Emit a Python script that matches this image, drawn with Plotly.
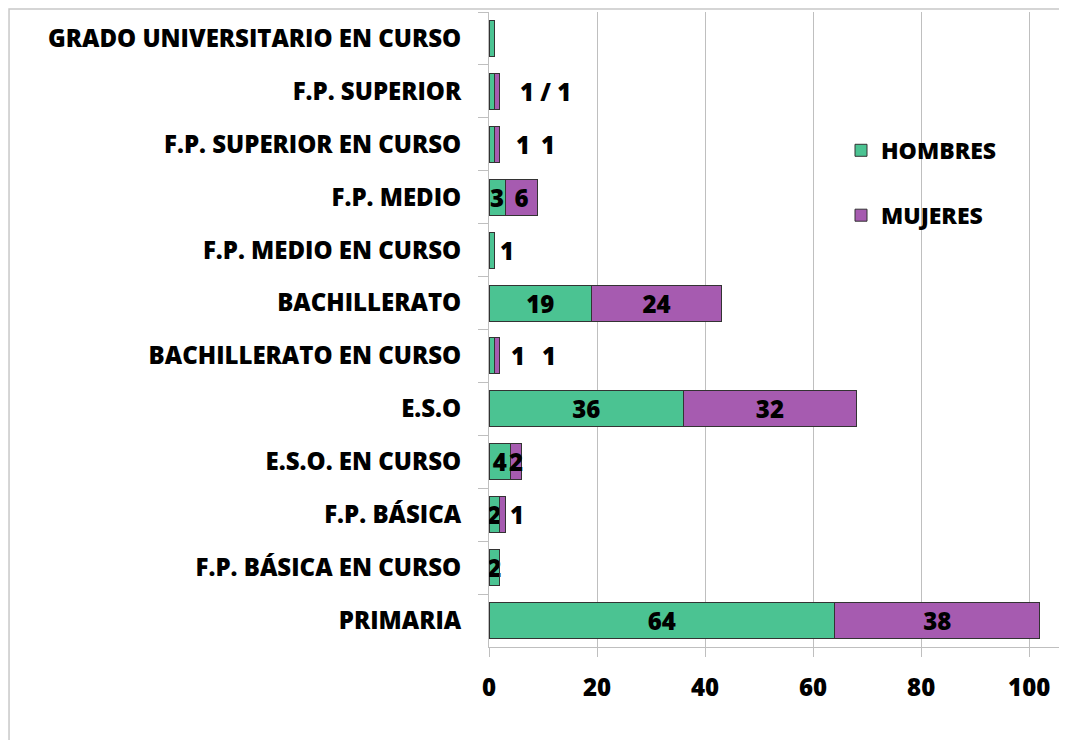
import plotly.graph_objects as go

categorias = ["GRADO UNIVERSITARIO EN CURSO", "F.P. SUPERIOR", "F.P. SUPERIOR EN CURSO",
              "F.P. MEDIO", "F.P. MEDIO EN CURSO", "BACHILLERATO", "BACHILLERATO EN CURSO",
              "E.S.O", "E.S.O. EN CURSO", "F.P. BÁSICA", "F.P. BÁSICA EN CURSO", "PRIMARIA"]
hombres = [1, 1, 1, 3, 1, 19, 1, 36, 4, 2, 2, 64]
mujeres = [0, 1, 1, 6, 0, 24, 1, 32, 2, 1, 0, 38]
texto_hombres = ["", "", "", "3", "", "19", "", "36", "4", "2", "2", "64"]
texto_mujeres = ["", "", "", "6", "", "24", "", "32", "2", "", "", "38"]
# labels drawn beside the small bars: (category, text, x in data units)
etiquetas_fuera = [("F.P. SUPERIOR", "1 / 1", 10.4),
                   ("F.P. SUPERIOR EN CURSO", "1", 6.3),
                   ("F.P. SUPERIOR EN CURSO", "1", 10.9),
                   ("F.P. MEDIO EN CURSO", "1", 3.3),
                   ("BACHILLERATO EN CURSO", "1", 5.4),
                   ("BACHILLERATO EN CURSO", "1", 11.1),
                   ("F.P. BÁSICA", "1", 5.2)]
ticks_x = [0, 20, 40, 60, 80, 100]

FONT = "Open Sans"
W = 800
VERDE = "#4BC392"
MORADO = "#A65BB0"
BORDE = "#333333"
VAL_FONT = dict(family=FONT, size=24, color="black", weight=W)

fig = go.Figure()
fig.add_trace(go.Bar(
    y=categorias, x=hombres, orientation="h", name="HOMBRES",
    marker=dict(color=VERDE, line=dict(color=BORDE, width=1)),
    text=texto_hombres, textposition="inside", insidetextanchor="middle",
    textangle=0, constraintext="none", textfont=VAL_FONT,
    legendgroup="h", width=0.68,
))
fig.add_trace(go.Bar(
    y=categorias, x=mujeres, orientation="h", name="MUJERES",
    marker=dict(color=MORADO, line=dict(color=BORDE, width=1)),
    text=texto_mujeres, textposition="inside", insidetextanchor="middle",
    textangle=0, constraintext="none", textfont=VAL_FONT,
    legendgroup="m", width=0.68,
))

for cat, txt, xpos in etiquetas_fuera:
    fig.add_annotation(x=xpos, y=cat, text=txt, showarrow=False, xanchor="center",
                       font=VAL_FONT)

fig.add_shape(type="rect", xref="paper", yref="paper", x0=-0.8304, x1=1.2, y0=-0.3, y1=1.0047,
              line=dict(color="#c8c8c8", width=1.5), fillcolor="rgba(0,0,0,0)", layer="below")

fig.update_layout(
    width=1067, height=740,
    margin=dict(l=481, r=8, t=4, b=101, autoexpand=False),
    barmode="stack", bargap=0.32,
    plot_bgcolor="white", paper_bgcolor="white",
    font=dict(family=FONT, color="black"),
    showlegend=True,
    legend=dict(x=0.609, y=0.816, xanchor="left", yanchor="top",
                traceorder="grouped", tracegroupgap=32,
                font=dict(family=FONT, size=23, color="black", weight=W),
                bgcolor="rgba(0,0,0,0)", itemwidth=30),
    xaxis=dict(range=[0, 107], tickvals=ticks_x, showgrid=True, gridcolor="#bfbfbf",
               gridwidth=1, zeroline=False, showline=True, linecolor="#bfbfbf",
               ticks="outside", ticklen=9, tickcolor="#bfbfbf", automargin=False,
               tickfont=dict(family=FONT, size=24, color="black", weight=W),
               ticklabelstandoff=10),
    yaxis=dict(categoryorder="array", categoryarray=categorias, autorange="reversed",
               showline=True, linecolor="#bfbfbf", ticks="outside", tickson="boundaries",
               ticklen=10, tickcolor="#bfbfbf", showgrid=False, automargin=False,
               tickfont=dict(family=FONT, size=24, color="black", weight=W),
               ticklabelstandoff=22),
)

fig.write_html("out.html")
